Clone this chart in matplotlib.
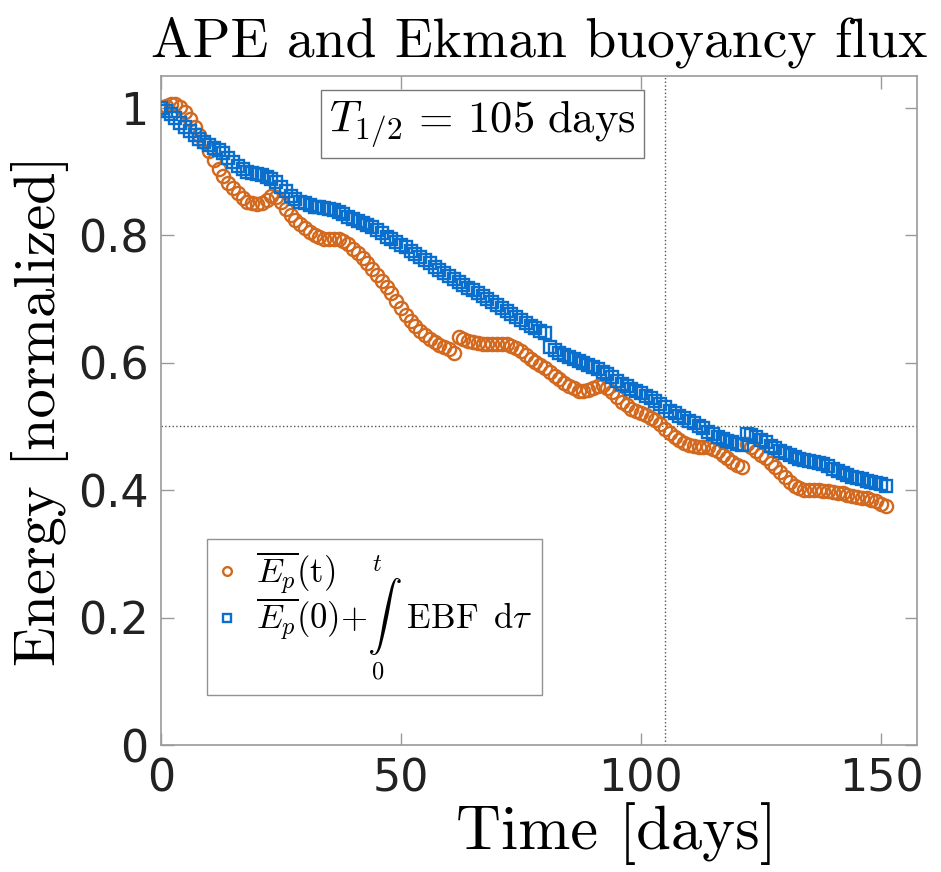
import matplotlib
matplotlib.use("Agg")
import matplotlib.pyplot as plt
import numpy as np

plt.rcParams['mathtext.fontset'] = 'cm'
plt.rcParams['font.family'] = ['DejaVu Sans']

days = list(range(0, 152))

ape = [1.000, 1.003, 1.006, 1.006, 1.002, 0.993, 0.982, 0.970, 0.958, 0.947,
       0.933, 0.918, 0.904, 0.893, 0.882, 0.874, 0.866, 0.858, 0.852, 0.850,
       0.849, 0.851, 0.856, 0.861, 0.860, 0.852, 0.842, 0.832, 0.824, 0.818,
       0.812, 0.805, 0.800, 0.797, 0.795, 0.795, 0.795, 0.794, 0.791, 0.786,
       0.779, 0.772, 0.764, 0.756, 0.747, 0.738, 0.728, 0.719, 0.709, 0.697,
       0.686, 0.675, 0.665, 0.657, 0.650, 0.643, 0.637, 0.632, 0.628, 0.624,
       0.621, 0.616, 0.640, 0.637, 0.634, 0.632, 0.631, 0.630, 0.630, 0.630,
       0.630, 0.630, 0.629, 0.627, 0.623, 0.618, 0.612, 0.606, 0.601, 0.596,
       0.591, 0.585, 0.579, 0.574, 0.569, 0.564, 0.560, 0.556, 0.555, 0.557,
       0.561, 0.564, 0.565, 0.561, 0.554, 0.546, 0.539, 0.533, 0.528, 0.524,
       0.521, 0.518, 0.514, 0.510, 0.504, 0.496, 0.489, 0.483, 0.478, 0.474,
       0.471, 0.469, 0.468, 0.467, 0.467, 0.465, 0.461, 0.455, 0.450, 0.445,
       0.440, 0.436, 0.472, 0.468, 0.462, 0.456, 0.450, 0.443, 0.436, 0.428,
       0.420, 0.413, 0.407, 0.403, 0.401, 0.400, 0.400, 0.400, 0.399, 0.398,
       0.397, 0.396, 0.395, 0.393, 0.391, 0.390, 0.388, 0.387, 0.385, 0.383,
       0.379, 0.375]

ebf = [1.000, 0.995, 0.990, 0.984, 0.977, 0.970, 0.963, 0.957, 0.951, 0.946,
       0.941, 0.937, 0.934, 0.929, 0.922, 0.915, 0.909, 0.904, 0.900, 0.898,
       0.896, 0.894, 0.892, 0.889, 0.883, 0.876, 0.869, 0.862, 0.857, 0.853,
       0.850, 0.847, 0.845, 0.844, 0.843, 0.841, 0.839, 0.836, 0.833, 0.829,
       0.826, 0.822, 0.819, 0.816, 0.813, 0.808, 0.803, 0.798, 0.794, 0.789,
       0.785, 0.781, 0.776, 0.771, 0.766, 0.761, 0.756, 0.750, 0.745, 0.741,
       0.736, 0.731, 0.727, 0.722, 0.718, 0.714, 0.709, 0.704, 0.700, 0.695,
       0.690, 0.686, 0.682, 0.677, 0.672, 0.667, 0.662, 0.658, 0.654, 0.650,
       0.647, 0.624, 0.620, 0.616, 0.612, 0.609, 0.606, 0.603, 0.600, 0.597,
       0.594, 0.590, 0.586, 0.582, 0.577, 0.572, 0.567, 0.563, 0.559, 0.555,
       0.552, 0.548, 0.544, 0.540, 0.535, 0.530, 0.525, 0.521, 0.517, 0.513,
       0.509, 0.505, 0.501, 0.497, 0.492, 0.488, 0.484, 0.480, 0.477, 0.475,
       0.473, 0.471, 0.488, 0.486, 0.483, 0.479, 0.475, 0.470, 0.466, 0.462,
       0.458, 0.455, 0.452, 0.449, 0.447, 0.446, 0.444, 0.443, 0.441, 0.438,
       0.434, 0.430, 0.427, 0.424, 0.421, 0.419, 0.417, 0.415, 0.413, 0.411,
       0.409, 0.406]

half_life = 105
xticks = [0, 50, 100, 150]
yticks = [0, 0.2, 0.4, 0.6, 0.8, 1]

c_orange = '#D2691E'
c_blue = '#0A6FCC'
axis_gray = '#9a9a9a'
serif = 'cmr10'

fig = plt.figure(figsize=(9.41, 8.72), dpi=100)
ax = fig.add_axes([0.171, 0.1456, 0.8035, 0.7672])

ax.axhline(0.5, color='#555555', linestyle=':', linewidth=1.0, zorder=1)
ax.axvline(half_life, color='#555555', linestyle=':', linewidth=1.0, zorder=1)

ax.plot(days, ape, linestyle='none', marker='o', markersize=9.5,
        markerfacecolor='none', markeredgecolor=c_orange, markeredgewidth=1.7,
        label=r'$\overline{E_p}(\mathrm{t})$', zorder=3)
ax.plot(days, ebf, linestyle='none', marker='s', markersize=8.0,
        markerfacecolor='none', markeredgecolor=c_blue, markeredgewidth=1.7,
        label=r'$\overline{E_p}(0){+}\overset{t}{\underset{0}{\int}}\ \ \mathrm{EBF\ \,d}\tau$',
        zorder=3)

ax.set_xlim(0, 157.5)
ax.set_ylim(0, 1.05)
ax.set_xticks(xticks)
ax.set_xticklabels([str(v) for v in xticks])
ax.set_yticks(yticks)
ax.set_yticklabels(['0', '0.2', '0.4', '0.6', '0.8', '1'])

for s in ax.spines.values():
    s.set_color(axis_gray)
    s.set_linewidth(1.2)
ax.tick_params(direction='in', length=9, width=1.0, color=axis_gray,
               top=True, right=True, labelsize=32, labelcolor='#222222', pad=9)

ax.set_xlabel('Time [days]', fontsize=45, fontfamily=serif)
ax.xaxis.set_label_coords(0.602, -0.085)
ax.set_ylabel('Energy [normalized]', fontsize=42, fontfamily=serif, labelpad=6)
ax.set_title('APE and Ekman buoyancy flux', fontsize=40, fontfamily=serif, pad=14)

ax.text(0.425, 0.928, r'$T_{1/2}\,=\,105\ \mathrm{days}$', transform=ax.transAxes,
        ha='center', va='center', fontsize=32,
        bbox=dict(boxstyle='square,pad=0.18', facecolor='white', edgecolor='#777777',
                  linewidth=1.0))

leg = ax.legend(loc='lower left', bbox_to_anchor=(0.061, 0.075), borderaxespad=0,
                fontsize=25, frameon=True, fancybox=False, handlelength=0.55,
                handletextpad=0.55, labelspacing=-1.15, borderpad=0.3,
                markerscale=0.66)
leg.get_frame().set_edgecolor('#777777')
leg.get_frame().set_linewidth(1.0)

fig.savefig('out.png', dpi=100)
